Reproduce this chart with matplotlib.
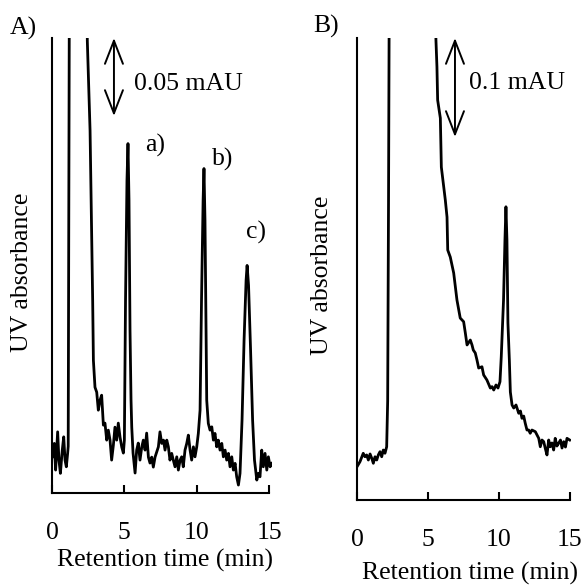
import matplotlib
matplotlib.use("Agg")
import matplotlib.pyplot as plt


# =========================================================
# Config
# =========================================================

plt.rcParams["font.family"] = ["Liberation Serif", "DejaVu Serif"]
plt.rcParams["font.size"] = 18.5

FIG_W, FIG_H = 584, 585
DPI = 100
LINE_W = 2.0
SPINE_W = 1.5
FS = 18.5


# =========================================================
# Data (y in mAU)
# =========================================================

# Panel A, full trace; values above the axis top are off-scale
time_a = [
    0.02, 0.16, 0.25, 0.39, 0.48, 0.58, 0.71, 0.81, 0.90, 0.99, 1.08, 1.12,
    1.22, 2.35, 2.44, 2.63, 2.81, 2.86, 2.97, 3.09, 3.20, 3.32, 3.43, 3.55,
    3.66, 3.78, 3.89, 4.01, 4.12, 4.24, 4.35, 4.47, 4.58, 4.70, 4.82, 4.93,
    5.00, 5.08, 5.18, 5.25, 5.32, 5.39, 5.46, 5.51, 5.60, 5.74, 5.85, 5.96,
    6.08, 6.20, 6.31, 6.43, 6.54, 6.66, 6.77, 6.89, 7.00, 7.12, 7.35, 7.46,
    7.58, 7.70, 7.81, 7.93, 8.04, 8.15, 8.27, 8.38, 8.50, 8.62, 8.73, 8.85,
    8.96, 9.07, 9.19, 9.31, 9.42, 9.54, 9.65, 9.77, 9.88, 10.00, 10.11, 10.23,
    10.33, 10.44, 10.50, 10.57, 10.64, 10.69, 10.80, 10.92, 11.04, 11.15,
    11.26, 11.38, 11.49, 11.61, 11.73, 11.84, 11.96, 12.07, 12.19, 12.30,
    12.42, 12.53, 12.65, 12.76, 12.88, 12.99, 13.13, 13.27, 13.41, 13.48,
    13.58, 13.72, 13.86, 13.99, 14.15, 14.26, 14.37, 14.49, 14.60, 14.72,
    14.84, 14.95, 15.07, 15.18,
]
signal_a = [
    0.0232, 0.0318, 0.0147, 0.0392, 0.0211, 0.0126, 0.0275, 0.0360, 0.0211,
    0.0168, 0.0254, 0.0300, 0.4000, 0.4000, 0.2899, 0.2323, 0.1235, 0.0851,
    0.0678, 0.0646, 0.0531, 0.0595, 0.0627, 0.0435, 0.0448, 0.0339, 0.0403,
    0.0339, 0.0211, 0.0307, 0.0422, 0.0339, 0.0448, 0.0358, 0.0294, 0.0256,
    0.0339, 0.1235, 0.2003, 0.2240, 0.1875, 0.1043, 0.0595, 0.0422, 0.0256,
    0.0128, 0.0275, 0.0320, 0.0211, 0.0294, 0.0339, 0.0275, 0.0384, 0.0230,
    0.0192, 0.0230, 0.0166, 0.0230, 0.0296, 0.0392, 0.0318, 0.0339, 0.0275,
    0.0339, 0.0296, 0.0211, 0.0254, 0.0211, 0.0168, 0.0232, 0.0147, 0.0211,
    0.0232, 0.0168, 0.0275, 0.0318, 0.0371, 0.0275, 0.0211, 0.0296, 0.0232,
    0.0296, 0.0382, 0.0531, 0.1235, 0.1875, 0.2080, 0.1747, 0.1043, 0.0595,
    0.0446, 0.0403, 0.0424, 0.0339, 0.0382, 0.0296, 0.0339, 0.0275, 0.0318,
    0.0232, 0.0275, 0.0211, 0.0254, 0.0168, 0.0232, 0.0147, 0.0190, 0.0104,
    0.0051, 0.0126, 0.0467, 0.0979, 0.1363, 0.1459, 0.1331, 0.0915, 0.0467,
    0.0211, 0.0083, 0.0126, 0.0104, 0.0275, 0.0168, 0.0254, 0.0147, 0.0232,
    0.0168, 0.0190,
]

# Panel B, full trace
time_b = [
    0.00, 0.21, 0.44, 0.56, 0.68, 0.80, 0.92, 1.04, 1.15, 1.27, 1.39, 1.50,
    1.62, 1.74, 1.85, 1.97, 2.09, 2.16, 2.22, 2.28, 5.45, 5.56, 5.63, 5.68,
    5.87, 5.94, 6.11, 6.22, 6.34, 6.39, 6.57, 6.81, 7.04, 7.27, 7.51, 7.63,
    7.75, 7.98, 8.10, 8.19, 8.33, 8.45, 8.57, 8.80, 8.92, 9.15, 9.39, 9.51,
    9.63, 9.79, 9.93, 10.07, 10.16, 10.32, 10.42, 10.49, 10.56, 10.63, 10.73,
    10.80, 10.92, 11.04, 11.20, 11.39, 11.51, 11.62, 11.74, 11.85, 11.97,
    12.09, 12.20, 12.32, 12.56, 12.80, 12.91, 13.03, 13.15, 13.26, 13.38,
    13.50, 13.61, 13.73, 13.85, 13.96, 14.08, 14.20, 14.33, 14.44, 14.56,
    14.68, 14.79, 14.98,
]
signal_b = [
    0.0336, 0.0387, 0.0472, 0.0437, 0.0455, 0.0404, 0.0465, 0.0421, 0.0371,
    0.0437, 0.0404, 0.0455, 0.0488, 0.0437, 0.0505, 0.0472, 0.0538, 0.1000,
    0.3000, 0.5500, 0.5500, 0.4646, 0.4376, 0.4040, 0.3858, 0.3363, 0.3161,
    0.3030, 0.2858, 0.2525, 0.2454, 0.2293, 0.2020, 0.1838, 0.1801, 0.1687,
    0.1566, 0.1616, 0.1566, 0.1515, 0.1485, 0.1414, 0.1333, 0.1346, 0.1263,
    0.1212, 0.1131, 0.1145, 0.1111, 0.1162, 0.1131, 0.1195, 0.1447, 0.2020,
    0.2626, 0.2962, 0.2626, 0.1788, 0.1414, 0.1091, 0.0960, 0.0929, 0.0960,
    0.0876, 0.0899, 0.0825, 0.0848, 0.0775, 0.0707, 0.0707, 0.0674, 0.0707,
    0.0690, 0.0623, 0.0538, 0.0606, 0.0589, 0.0522, 0.0455, 0.0606, 0.0538,
    0.0576, 0.0505, 0.0623, 0.0545, 0.0573, 0.0606, 0.0525, 0.0589, 0.0535,
    0.0623, 0.0606,
]

x_ticks = [0, 5, 10, 15]
x_label = "Retention time (min)"
y_label = "UV absorbance"

peak_labels_a = ["a)", "b)", "c)"]
peak_label_pos_a = [(6.43, 0.219), (11.04, 0.210), (13.41, 0.163)]


# =========================================================
# Plotting
# =========================================================

def px_box(left, top, width, height):
    """Pixel box (origin top-left) -> figure fraction rect."""
    return [left / FIG_W, 1 - (top + height) / FIG_H, width / FIG_W, height / FIG_H]


def style_axes(ax, xmax):
    for side in ("top", "right"):
        ax.spines[side].set_visible(False)
    for side in ("left", "bottom"):
        ax.spines[side].set_linewidth(SPINE_W)
    ax.spines["bottom"].set_bounds(0, 15)
    ax.set_xlim(0, xmax)
    ax.set_xticks(x_ticks)
    ax.set_yticks([])
    ax.tick_params(axis="x", direction="in", length=6, width=SPINE_W,
                   pad=21, labelsize=FS)


def scale_bar(ax, x, y_top, span, text, text_x, text_y):
    ax.annotate(
        "", xy=(x, y_top - span), xytext=(x, y_top),
        arrowprops=dict(arrowstyle="<->,head_length=0.9,head_width=0.35",
                        lw=1.4, color="black", shrinkA=0, shrinkB=0),
        annotation_clip=False,
    )
    ax.text(text_x, text_y, text, fontsize=FS, va="baseline", ha="left")


def main():
    fig = plt.figure(figsize=(FIG_W / DPI, FIG_H / DPI), dpi=DPI)

    # ---- panel A ----
    ax_a = fig.add_axes(px_box(52, 38, 220, 455))
    ax_a.plot(time_a, signal_a, color="black", lw=LINE_W)
    ax_a.set_ylim(0, 0.2917)
    style_axes(ax_a, 15.2)
    scale_bar(ax_a, 4.28, 0.2917, 0.05, "0.05 mAU", 5.67, 0.2586)
    for lab, (tx, ty) in zip(peak_labels_a, peak_label_pos_a):
        ax_a.text(tx, ty, lab, fontsize=FS, va="baseline", ha="left")

    # ---- panel B ----
    ax_b = fig.add_axes(px_box(357, 38, 214.4, 462))
    ax_b.plot(time_b, signal_b, color="black", lw=LINE_W)
    ax_b.set_ylim(0, 0.4667)
    style_axes(ax_b, 15.1)
    scale_bar(ax_b, 6.9, 0.4667, 0.1, "0.1 mAU", 7.89, 0.415)

    # ---- panel letters / axis titles ----
    fig.text(10 / FIG_W, 1 - 35 / FIG_H, "A)", fontsize=FS, va="baseline")
    fig.text(313 / FIG_W, 1 - 33 / FIG_H, "B)", fontsize=FS, va="baseline")

    fig.text(22 / FIG_W, 1 - 272 / FIG_H, y_label, rotation=90,
             ha="center", va="center", fontsize=FS)
    fig.text(322.5 / FIG_W, 1 - 275 / FIG_H, y_label, rotation=90,
             ha="center", va="center", fontsize=FS)

    fig.text(165 / FIG_W, 1 - 567 / FIG_H, x_label, ha="center",
             va="baseline", fontsize=FS)
    fig.text(470 / FIG_W, 1 - 580 / FIG_H, x_label, ha="center",
             va="baseline", fontsize=FS)

    fig.savefig("out.png", dpi=DPI)
    plt.close(fig)


if __name__ == "__main__":
    main()
